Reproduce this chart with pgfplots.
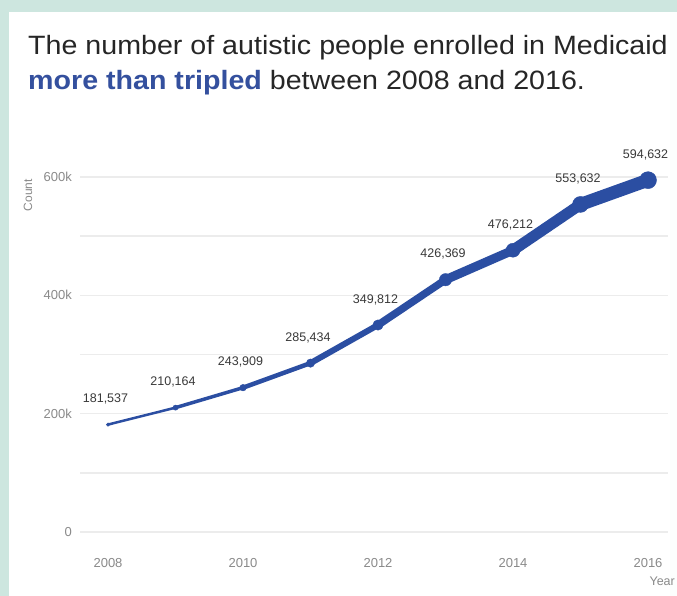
\documentclass[border=0pt]{standalone}
\usepackage{pgfplots}
\pgfplotsset{compat=1.18}
\usepackage{pgfplotstable}
\usepackage{fontspec}
\setmainfont{Liberation Sans}
\newfontfamily\titlefont[FakeStretch=1.08]{Liberation Sans}
\definecolor{teal0}{HTML}{CDE6DF}
\definecolor{lineblue}{HTML}{2B4EA2}
\definecolor{titleblue}{HTML}{34509E}
\definecolor{gridgray}{HTML}{ECECEC}
\definecolor{tickgray}{HTML}{8A8A8A}
\definecolor{labgray}{HTML}{3A3A3A}
\pgfplotstableread{
year value label
2008 181537 181,537
2009 210164 210,164
2010 243909 243,909
2011 285434 285,434
2012 349812 349,812
2013 426369 426,369
2014 476212 476,212
2015 553632 553,632
2016 594632 594,632
}\enrol
\begin{document}
\begin{tikzpicture}[x=1pt,y=1pt]
\fill[teal0] (0,0) rectangle (677,-596);
\fill[white] (9,-12) rectangle (670,-596);
\fill[white!95!teal0] (670,-12) rectangle (677,-596);
\node[anchor=base west, inner sep=0pt, font=\titlefont\fontsize{26.5}{30}\selectfont, text=black!85] at (28,-55) {The number of autistic people enrolled in Medicaid};
\node[anchor=base west, inner sep=0pt, font=\titlefont\fontsize{26.5}{30}\selectfont, text=black!85] at (28,-90) {\textcolor{titleblue}{\bfseries more than tripled} between 2008 and 2016.};
\node[rotate=90, anchor=center, inner sep=0pt, font=\fontsize{12}{14}\selectfont, text=tickgray] at (28,-195) {Count};
\node[anchor=base east, inner sep=0pt, font=\fontsize{12.5}{14}\selectfont, text=tickgray] at (675,-585) {Year};
\begin{axis}[
  at={(80pt,-532pt)}, anchor=south west,
  scale only axis, width=588pt, height=382pt,
  xmin=2007.585, xmax=2016.296,
  ymin=0, ymax=645600,
  xtick={2008,2010,2012,2014,2016},
  xticklabels={2008,2010,2012,2014,2016},
  ytick={0,200000,400000,600000},
  yticklabels={0,200k,400k,600k},
  minor ytick={100000,300000,500000},
  ymajorgrids, yminorgrids,
  major grid style={gridgray, line width=1.5pt},
  minor grid style={gridgray, line width=1.5pt},
  axis line style={draw=none},
  tick style={draw=none},
  clip=false,
  ticklabel style={font=\fontsize{13}{15}\selectfont, text=tickgray},
  yticklabel style={anchor=east, inner sep=0pt, xshift=-8pt},
  xticklabel style={anchor=north, inner sep=0pt, yshift=-26pt},
  scaled y ticks=false,
]
\addplot[lineblue, line width=2.5pt, line cap=round] coordinates {(2008,181537)(2009,210164)};
\addplot[lineblue, line width=3.5pt, line cap=round] coordinates {(2009,210164)(2010,243909)};
\addplot[lineblue, line width=4.5pt, line cap=round] coordinates {(2010,243909)(2011,285434)};
\addplot[lineblue, line width=6pt, line cap=round] coordinates {(2011,285434)(2012,349812)};
\addplot[lineblue, line width=7.5pt, line cap=round] coordinates {(2012,349812)(2013,426369)};
\addplot[lineblue, line width=9pt, line cap=round] coordinates {(2013,426369)(2014,476212)};
\addplot[lineblue, line width=11pt, line cap=round] coordinates {(2014,476212)(2015,553632)};
\addplot[lineblue, line width=13pt, line cap=round] coordinates {(2015,553632)(2016,594632)};
\addplot[only marks, mark=*, mark size=1.8pt, lineblue] coordinates {(2008,181537)};
\addplot[only marks, mark=*, mark size=2.6pt, lineblue] coordinates {(2009,210164)};
\addplot[only marks, mark=*, mark size=3.3pt, lineblue] coordinates {(2010,243909)};
\addplot[only marks, mark=*, mark size=4.2pt, lineblue] coordinates {(2011,285434)};
\addplot[only marks, mark=*, mark size=5.2pt, lineblue] coordinates {(2012,349812)};
\addplot[only marks, mark=*, mark size=6.2pt, lineblue] coordinates {(2013,426369)};
\addplot[only marks, mark=*, mark size=7pt, lineblue] coordinates {(2014,476212)};
\addplot[only marks, mark=*, mark size=8pt, lineblue] coordinates {(2015,553632)};
\addplot[only marks, mark=*, mark size=8.5pt, lineblue] coordinates {(2016,594632)};
\addplot[draw=none, mark=none, point meta=explicit symbolic,
  nodes near coords, nodes near coords align={anchor=base},
  every node near coord/.append style={font=\fontsize{12.5}{14}\selectfont, text=labgray, inner sep=0pt, yshift=22pt, xshift=-2.5pt}]
  table[x=year, y=value, meta=label] {\enrol};
\end{axis}
\end{tikzpicture}
\end{document}
